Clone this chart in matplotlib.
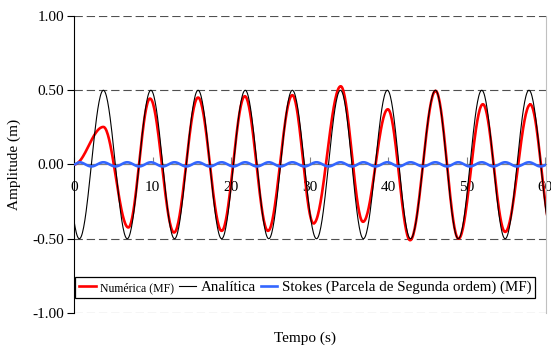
import matplotlib
matplotlib.use("Agg")
import matplotlib.pyplot as plt
import numpy as np

# extrema (time s, amplitude m)
analitica_t = [-2.33, 0.68, 3.74, 6.78, 9.79, 12.8, 15.8, 18.8, 21.8, 24.8, 27.8,
               30.88, 33.93, 36.85, 39.9, 42.85, 46.02, 48.93, 51.92, 54.9, 57.93, 60.95]
analitica_v = [0.5, -0.5, 0.5, -0.5, 0.5, -0.5, 0.5, -0.5, 0.5, -0.5, 0.5,
               -0.5, 0.5, -0.5, 0.5, -0.5, 0.5, -0.5, 0.5, -0.5, 0.5, -0.5]

numerica_t = [0.0, 3.74, 6.92, 9.68, 12.74, 15.8, 18.8, 21.75, 24.7, 27.8, 30.5,
              33.96, 36.8, 39.96, 42.8, 46.04, 48.96, 52.06, 54.9, 58.1, 60.9]
numerica_v = [0.0, 0.253, -0.424, 0.444, -0.458, 0.451, -0.447, 0.46, -0.447, 0.467, -0.397,
              0.527, -0.386, 0.372, -0.51, 0.496, -0.50, 0.406, -0.454, 0.404, -0.45]

stokes_t = [0.0, 0.68, 2.21, 3.74, 5.27, 6.78, 8.3, 9.79, 11.3, 12.8, 14.3, 15.8, 17.3,
            18.8, 20.3, 21.8, 23.3, 24.8, 26.3, 27.8, 29.35, 30.88, 32.4, 33.93, 35.4,
            36.85, 38.4, 39.9, 41.35, 42.85, 44.45, 46.02, 47.5, 48.93, 50.4, 51.92,
            53.4, 54.9, 56.4, 57.93, 59.4, 60.95]
stokes_v = [0.0] + [0.015, -0.013] * 20 + [0.015]

labels = ["Numérica (MF)", "Analítica", "Stokes (Parcela de Segunda ordem) (MF)"]
yticks = [-1.0, -0.5, 0.0, 0.5, 1.0]
xticks = [0, 10, 20, 30, 40, 50, 60]


# smooth half-cosine arcs between successive extrema
def arcs(ts, vs, n=40):
    tt, vv = [], []
    for i in range(len(ts) - 1):
        s = np.linspace(0, 1, n)
        tt.append(ts[i] + (ts[i + 1] - ts[i]) * s)
        vv.append(vs[i] + (vs[i + 1] - vs[i]) * (1 - np.cos(np.pi * s)) / 2)
    return np.concatenate(tt), np.concatenate(vv)


plt.rcParams['font.family'] = ['Liberation Serif', 'DejaVu Serif']

fig = plt.figure(figsize=(5.51, 3.47), dpi=100)
ax = fig.add_axes([74 / 551, 1 - 313 / 347, 472 / 551, 297 / 347])

t, v = arcs(numerica_t, numerica_v)
ax.plot(t, v, color='#ff0000', lw=1.9, zorder=3, label=labels[0])
t, v = arcs(analitica_t, analitica_v)
ax.plot(t, v, color='black', lw=0.8, zorder=3, label=labels[1])
t, v = arcs(stokes_t, stokes_v)
ax.plot(t, v, color='#3366ff', lw=1.9, zorder=3, label=labels[2])

ax.set_xlim(0, 60.1)
ax.set_ylim(-1.0, 1.0)
ax.set_yticks(yticks)
ax.set_yticklabels(['%.2f' % y for y in yticks])
ax.set_xticks(xticks)
ax.yaxis.grid(True, color='#505050', lw=0.8, linestyle=(0, (7.5, 3.5)))
ax.set_axisbelow(True)

ax.spines['bottom'].set_position(('data', 0))
ax.spines['bottom'].set_color('#808080')
ax.spines['top'].set_visible(False)
ax.spines['right'].set_color('#c0c0c0')
ax.spines['left'].set_color('black')
ax.tick_params(axis='x', direction='in', length=5, pad=12, labelsize=11, color='#808080')
ax.tick_params(axis='y', direction='out', length=5, pad=2, labelsize=11)

ax.set_ylabel('Amplitude (m)', fontsize=11, labelpad=8)
fig.text(305 / 551, 1 - 338 / 347, 'Tempo (s)', fontsize=11, ha='center', va='center')

leg = ax.legend(loc='lower center', bbox_to_anchor=(0.49, 0.05), ncol=3, fontsize=10.8,
                handlelength=1.1, handletextpad=0.3, columnspacing=0.35,
                borderpad=0.25, borderaxespad=0, fancybox=False, framealpha=1)
leg.get_frame().set_edgecolor('black')
leg.get_frame().set_linewidth(0.9)
leg.get_texts()[0].set_fontsize(8.5)

fig.savefig('out.png', dpi=100)
